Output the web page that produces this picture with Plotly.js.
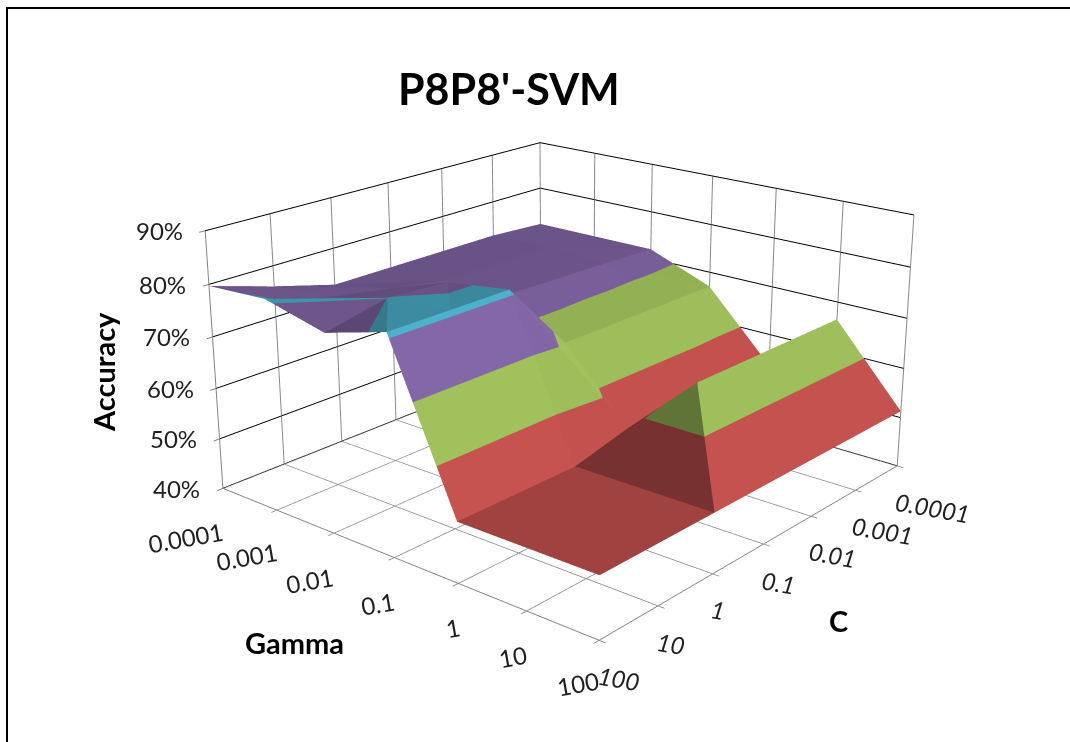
<!DOCTYPE html>
<html>
<head>
<meta charset="utf-8">
<script src="https://cdn.plot.ly/plotly-3.0.1.min.js"></script>
<style>
html,body{margin:0;padding:0;width:1070px;height:742px;overflow:hidden;background:#fff;}
#chart{position:absolute;}
</style>
</head>
<body>
<div id="chart"></div>
<script>
const gammaLabels = ['0.0001','0.001','0.01','0.1','1','10','100'];
const cLabels = ['100','10','1','0.1','0.01','0.001','0.0001'];
const zLabels = ['40%','50%','60%','70%','80%','90%'];
const zTicks = [40,50,60,70,80,90];
const zRow100  = [79.7,80.4,77.5,81.0,51.3,51.3,51.3];
const zRow10   = [76.0,77.0,80.05,81.0,51.3,51.3,51.3];
const zRow1    = [72.7,75.0,79.3,81.0,51.3,51.3,51.3];
const zRow01   = [72.7,73.0,73.0,67.0,54.0,66.5,51.3];
const zRow001  = [72.7,73.0,72.7,67.0,54.0,66.5,51.3];
const zRow0001 = [72.7,73.0,72.4,67.0,54.0,66.5,51.3];
const zRow00001= [72.0,72.0,72.0,67.0,53.5,66.5,51.3];
const zRows = [zRow100,zRow10,zRow1,zRow01,zRow001,zRow0001,zRow00001];
const antiCells = ['2,0','5,2','2,1'];
const bandColors = [[79,129,189],[192,80,77],[155,187,89],[128,100,162],[75,172,198]];
const bandEdges = [40,50,60,70,80,90];
// label offsets from the axis tick, in pixels
const gammaShiftX = [-37,-30,-24,-16,-5,-14,-21];
const gammaShiftY = [49,46,47,46,44,46,43];
const cShiftX = [20,13,5,15,21,27,35];
const cShiftY = [38,38,36,38,38,40,42];

const PW = 2170, PH = 1502, OX = -520, OY = -398;
const ZASPECT = 0.55;
const px = v => (v - OX) / PW;
const py = v => 1 - (v - OY) / PH;

const n = gammaLabels.length, m = cLabels.length;
const xs=[], ys=[], zs=[], I=[], J=[], K=[], faceColors=[];

function shade(a,b,c){
  const sx=p=>[p[0]/6,p[1]/6,(p[2]-40)/50*ZASPECT];
  const A=sx(a),B=sx(b),C=sx(c);
  const u=[B[0]-A[0],B[1]-A[1],B[2]-A[2]], v=[C[0]-A[0],C[1]-A[1],C[2]-A[2]];
  let N=[u[1]*v[2]-u[2]*v[1],u[2]*v[0]-u[0]*v[2],u[0]*v[1]-u[1]*v[0]];
  const len=Math.hypot(N[0],N[1],N[2])||1;
  N=N.map(t=>t/len); if(N[2]<0) N=N.map(t=>-t);
  const dot=0.8*N[0]+0.45*N[1]+0.5*N[2];
  return Math.min(1.04,0.602+0.457*Math.max(0,dot));
}
function clip(poly,limit,keepAbove){
  const out=[];
  poly.forEach((p,i)=>{
    const q=poly[(i+1)%poly.length];
    const pin=keepAbove?p[2]>=limit:p[2]<=limit, qin=keepAbove?q[2]>=limit:q[2]<=limit;
    if(pin) out.push(p);
    if(pin!==qin){const t=(limit-p[2])/(q[2]-p[2]);out.push([p[0]+t*(q[0]-p[0]),p[1]+t*(q[1]-p[1]),limit]);}
  });
  return out;
}
function addTriangle(a,b,c){
  const s=shade(a,b,c);
  bandColors.forEach((col,bi)=>{
    let poly=clip([a,b,c],bandEdges[bi],true);
    if(poly.length) poly=clip(poly,bandEdges[bi+1],false);
    if(poly.length<3) return;
    const base=xs.length;
    poly.forEach(p=>{xs.push(p[0]);ys.push(p[1]);zs.push(p[2]);});
    const color='rgb('+col.map(t=>Math.min(255,Math.round(t*s))).join(',')+')';
    for(let t=1;t<poly.length-1;t++){I.push(base);J.push(base+t);K.push(base+t+1);faceColors.push(color);}
  });
}
const P=(g,c)=>[g,c,zRows[c][g]];
for(let c=0;c<m-1;c++)for(let g=0;g<n-1;g++){
  const a=P(g,c),b=P(g+1,c),d=P(g+1,c+1),e=P(g,c+1);
  if(antiCells.includes(g+','+c)){addTriangle(a,b,e);addTriangle(b,d,e);}
  else{addTriangle(a,b,d);addTriangle(a,d,e);}
}

const axisBase = {
  showbackground:false, showspikes:false, zeroline:false,
  showline:true, linecolor:'#808080', linewidth:2,
  ticks:'outside', ticklen:6, tickcolor:'#808080', tickwidth:2,
  gridcolor:'#858585', gridwidth:2, showticklabels:false
};
const trace = {
  type:'mesh3d', x:xs, y:ys, z:zs, i:I, j:J, k:K, facecolor:faceColors,
  showscale:false, flatshading:true, hoverinfo:'skip',
  lighting:{ambient:1,diffuse:0,specular:0,roughness:1,fresnel:0}
};
const tickFont = {family:'Lato',size:24,color:'#1f1f1f'};
const sceneNotes = [];
gammaLabels.forEach((t,i)=>sceneNotes.push({x:i,y:0,z:40,text:t,showarrow:false,textangle:-10,
  xshift:gammaShiftX[i],yshift:-gammaShiftY[i],font:tickFont}));
cLabels.forEach((t,i)=>sceneNotes.push({x:6,y:i,z:40,text:t,showarrow:false,textangle:10,
  xshift:cShiftX[i],yshift:-cShiftY[i],font:Object.assign({style:'italic'},tickFont)}));
zLabels.forEach((t,i)=>sceneNotes.push({x:0,y:0,z:zTicks[i],text:t,showarrow:false,
  xshift:-46,yshift:0,font:tickFont}));

const note=(text,x,y,size,extra)=>Object.assign({text,xref:'paper',yref:'paper',x:px(x),y:py(y),xanchor:'center',yanchor:'middle',
  showarrow:false,font:{family:'Lato',size,color:'#000',weight:700}},extra||{});
const layout = {
  width:PW, height:PH, paper_bgcolor:'#fff',
  margin:{l:0,r:0,t:0,b:0}, showlegend:false,
  scene:{
    domain:{x:[0,1],y:[0,1]},
    aspectmode:'manual', aspectratio:{x:1,y:1,z:ZASPECT},
    camera:{eye:{x:2.25,y:-2.66,z:1.24},center:{x:0,y:0,z:0},up:{x:0,y:0,z:1}},
    xaxis:Object.assign({},axisBase,{title:{text:''},range:[0,6],tickvals:[0,1,2,3,4,5,6]}),
    yaxis:Object.assign({},axisBase,{title:{text:''},range:[0,6],tickvals:[0,1,2,3,4,5,6]}),
    zaxis:Object.assign({},axisBase,{title:{text:''},range:[40,90],tickvals:zTicks,gridcolor:'#000000'}),
    annotations:sceneNotes
  },
  shapes:[{type:'rect',xref:'paper',yref:'paper',x0:px(7),x1:px(1200),y0:py(8),y1:py(900),line:{color:'#000',width:2},fillcolor:'rgba(0,0,0,0)'}],
  annotations:[
    note("P8P8'-SVM",509,88,43),
    note('Accuracy',103,372,29,{textangle:-90}),
    note('Gamma',294,642,29),
    note('C',838,620,29)
  ]
};
const el=document.getElementById('chart');
el.style.left=OX+'px'; el.style.top=OY+'px'; el.style.width=PW+'px'; el.style.height=PH+'px';
Plotly.newPlot(el,[trace],layout,{displayModeBar:false});
</script>
</body>
</html>
